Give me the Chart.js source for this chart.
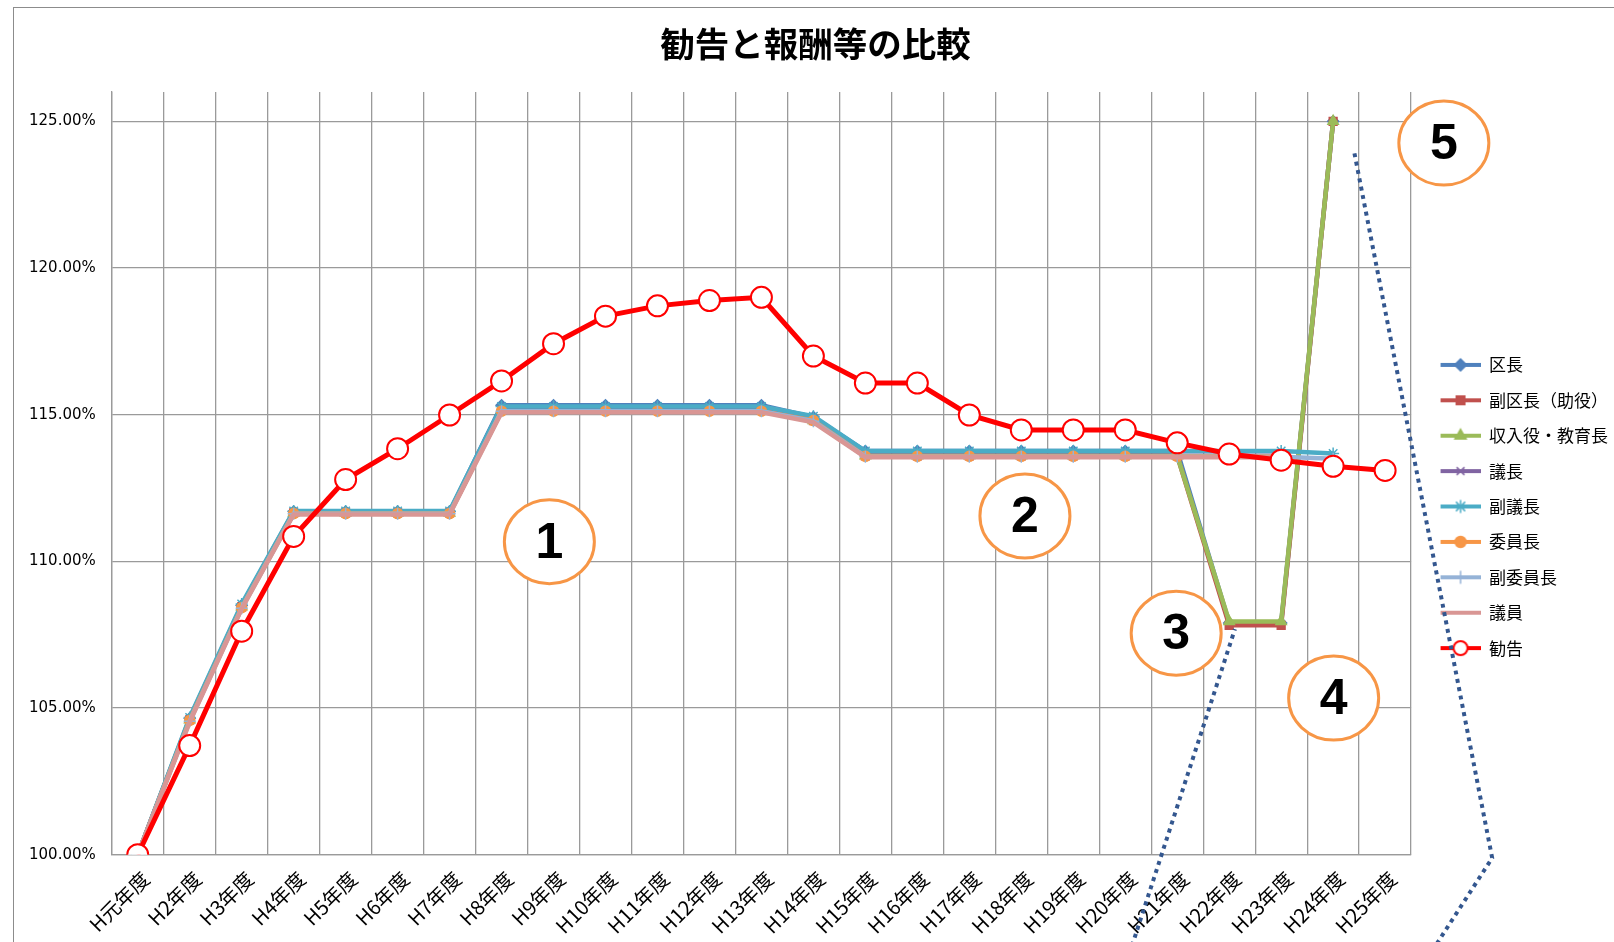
<!DOCTYPE html>
<html lang="ja">
<head>
<meta charset="utf-8">
<title>勧告と報酬等の比較</title>
<script src="https://cdn.jsdelivr.net/npm/chart.js@4.4.1/dist/chart.umd.min.js"></script>
<style>
  html, body { margin: 0; padding: 0; background: #fff; }
  #wrap { position: relative; width: 1614px; height: 942px; overflow: hidden; }
  #frame { position: absolute; left: 13px; top: 7px; width: 1700px; height: 1000px;
           border-left: 1.5px solid #8c8c8c; border-top: 1.5px solid #8c8c8c; }
  #chart { position: absolute; left: 0; top: 0; }
</style>
</head>
<body>
<div id="wrap">
  <div id="frame"></div>
  <canvas id="chart" width="1614" height="942"></canvas>
</div>
<script>
// fiscal years (Heisei)
const years = ['H元年度', 'H2年度', 'H3年度', 'H4年度', 'H5年度', 'H6年度', 'H7年度', 'H8年度',
    'H9年度', 'H10年度', 'H11年度', 'H12年度', 'H13年度', 'H14年度', 'H15年度', 'H16年度',
    'H17年度', 'H18年度', 'H19年度', 'H20年度', 'H21年度', 'H22年度', 'H23年度', 'H24年度', 'H25年度'];

// ratios in %
const kuchou      = [100.00, 104.65, 108.50, 111.70, 111.70, 111.70, 111.70, 115.32, 115.32, 115.32, 115.32, 115.32, 115.32, 114.92, 113.76, 113.76, 113.76, 113.76, 113.76, 113.76, 113.76, 107.90, 107.90, 125.00, null];
const fukuKuchou  = [100.00, 104.60, 108.45, 111.65, 111.65, 111.65, 111.65, 115.15, 115.15, 115.15, 115.15, 115.15, 115.15, 114.80, 113.60, 113.60, 113.60, 113.60, 113.60, 113.60, 113.60, 107.82, 107.82, 125.00, null];
const shunyuyaku  = [100.00, 104.60, 108.45, 111.65, 111.65, 111.65, 111.65, 115.15, 115.15, 115.15, 115.15, 115.15, 115.15, 114.80, 113.60, 113.60, 113.60, 113.60, 113.60, 113.60, 113.60, 107.95, 107.95, 125.00, null];
const gichou      = [100.00, 104.60, 108.45, 111.65, 111.65, 111.65, 111.65, 115.15, 115.15, 115.15, 115.15, 115.15, 115.15, 114.80, 113.60, 113.60, 113.60, 113.60, 113.60, 113.60, 113.60, 113.60, 113.60, null, null];
const fukuGichou  = [100.00, 104.68, 108.55, 111.72, 111.72, 111.72, 111.72, 115.28, 115.28, 115.28, 115.28, 115.28, 115.28, 114.95, 113.76, 113.76, 113.76, 113.76, 113.76, 113.76, 113.76, 113.76, 113.76, 113.68, null];
const iinchou     = [100.00, 104.58, 108.42, 111.63, 111.63, 111.63, 111.63, 115.12, 115.12, 115.12, 115.12, 115.12, 115.12, 114.80, 113.58, 113.58, 113.58, 113.58, 113.58, 113.58, 113.58, 113.58, 113.58, null, null];
const fukuIinchou = [100.00, 104.55, 108.40, 111.62, 111.62, 111.62, 111.62, 115.12, 115.12, 115.12, 115.12, 115.12, 115.12, 114.78, 113.57, 113.57, 113.57, 113.57, 113.57, 113.57, 113.57, 113.57, 113.57, 113.50, null];
const giin        = [100.00, 104.52, 108.38, 111.60, 111.60, 111.60, 111.60, 115.08, 115.08, 115.08, 115.08, 115.08, 115.08, 114.74, 113.55, 113.55, 113.55, 113.55, 113.55, 113.55, 113.55, 113.55, 113.55, null, null];
const kankoku     = [100.00, 103.72, 107.62, 110.85, 112.79, 113.84, 114.99, 116.15, 117.42, 118.36, 118.71, 118.89, 119.00, 117.00, 116.08, 116.08, 114.99, 114.48, 114.48, 114.48, 114.04, 113.66, 113.45, 113.24, 113.10];

// numbered circles, in (category index, %) units
const noteLabels = ['1', '2', '3', '4', '5'];
const noteX = [7.92, 17.07, 19.98, 23.01, 25.13];
const noteY = [110.67, 111.55, 107.55, 105.34, 124.26];

// dotted guide strokes, same units
const guideAX = [19.13, 21.11];
const guideAY = [96.90, 107.69];
const guideBX = [23.41, 26.06, 24.97];
const guideBY = [123.91, 99.89, 96.90];

const gridColor = '#9a9a9a';

function series(label, data, color, style, radius, order) {
    return {
        label: label,
        data: data,
        borderColor: color,
        backgroundColor: color,
        pointBackgroundColor: color,
        pointBorderColor: color,
        pointStyle: style,
        pointRadius: radius,
        pointBorderWidth: 1.5,
        borderWidth: 4.5,
        tension: 0,
        order: order,
    };
}

const datasets = [
    series('区長', kuchou, '#4f81bd', 'rectRot', 5.5, 8),
    series('副区長（助役）', fukuKuchou, '#c0504d', 'rect', 5.5, 7),
    series('収入役・教育長', shunyuyaku, '#9bbb59', 'triangle', 6, 6),
    series('議長', gichou, '#8064a2', 'crossRot', 5, 5),
    series('副議長', fukuGichou, '#4bacc6', 'star', 6, 4),
    series('委員長', iinchou, '#f79646', 'circle', 5, 3),
    series('副委員長', fukuIinchou, '#95b3d7', 'cross', 6, 2),
    series('議員', giin, '#d99694', 'circle', 0, 1),
    {
        label: '勧告',
        data: kankoku,
        borderColor: '#ff0000',
        backgroundColor: '#ff0000',
        pointBackgroundColor: '#ffffff',
        pointBorderColor: '#ff0000',
        pointStyle: 'circle',
        pointRadius: 10.5,
        pointBorderWidth: 2,
        borderWidth: 5,
        tension: 0,
        order: 0,
    },
];

// legend icon = short line with the marker in the middle
function legendIcon(ds) {
    const c = document.createElement('canvas');
    c.width = 51;
    c.height = 20;
    const g = c.getContext('2d');
    g.strokeStyle = ds.borderColor;
    g.lineWidth = 4;
    g.beginPath();
    g.moveTo(11, 10);
    g.lineTo(51, 10);
    g.stroke();
    if (ds.pointRadius > 0) {
        const big = ds.label === '勧告';
        g.fillStyle = ds.pointBackgroundColor;
        g.strokeStyle = ds.pointBorderColor;
        g.lineWidth = big ? 2 : 1.5;
        Chart.helpers.drawPoint(g, {
            pointStyle: ds.pointStyle,
            rotation: 0,
            radius: big ? 7 : ds.pointRadius + 0.5,
            borderWidth: g.lineWidth,
        }, 31, 10);
    }
    return c;
}
const legendIcons = datasets.map(legendIcon);

const notesPlugin = {
    id: 'notes',
    afterDraw(chart) {
        const {ctx} = chart;
        const xs = chart.scales.x, ys = chart.scales.y;
        ctx.save();
        ctx.strokeStyle = '#34578f';
        ctx.lineWidth = 4;
        ctx.setLineDash([4, 4.5]);
        [[guideAX, guideAY], [guideBX, guideBY]].forEach(([gx, gy]) => {
            ctx.beginPath();
            gx.forEach((v, i) => {
                const px = xs.getPixelForValue(v), py = ys.getPixelForValue(gy[i]);
                if (i === 0) ctx.moveTo(px, py); else ctx.lineTo(px, py);
            });
            ctx.stroke();
        });
        ctx.setLineDash([]);
        noteLabels.forEach((t, i) => {
            const cx = xs.getPixelForValue(noteX[i]), cy = ys.getPixelForValue(noteY[i]);
            ctx.beginPath();
            ctx.ellipse(cx, cy, 45, 42, 0, 0, Math.PI * 2);
            ctx.fillStyle = '#ffffff';
            ctx.fill();
            ctx.strokeStyle = '#f79646';
            ctx.lineWidth = 3;
            ctx.stroke();
            ctx.fillStyle = '#000000';
            ctx.font = 'bold 50px "Liberation Sans"';
            ctx.textAlign = 'center';
            ctx.textBaseline = 'middle';
            ctx.fillText(t, cx, cy + 2);
        });
        ctx.restore();
    }
};

Chart.defaults.font.family = '"Noto Sans CJK JP", "Noto Sans", sans-serif';
Chart.defaults.color = '#000';

const ctx = document.getElementById('chart').getContext('2d');
new Chart(ctx, {
    type: 'line',
    data: { labels: years, datasets: datasets },
    plugins: [notesPlugin],
    options: {
        responsive: false,
        animation: false,
        layout: { padding: { left: 13, right: -4, top: 0, bottom: -8 } },
        plugins: {
            title: {
                display: true,
                text: '勧告と報酬等の比較',
                color: '#000',
                font: { size: 34.5, weight: 'bold' },
                padding: { top: 23.3, bottom: 27.3 },
            },
            legend: {
                position: 'right',
                align: 'start',
                title: { display: true, text: '', font: { size: 10 }, padding: { top: 326, bottom: 0 } },
                labels: {
                    usePointStyle: true,
                    pointStyleWidth: 51,
                    padding: 18.4,
                    color: '#000',
                    font: { size: 17 },
                    sort: (a, b) => a.datasetIndex - b.datasetIndex,
                    generateLabels(chart) {
                        const items = Chart.defaults.plugins.legend.labels.generateLabels(chart);
                        items.forEach(it => { it.pointStyle = legendIcons[it.datasetIndex]; });
                        return items;
                    },
                },
            },
            tooltip: { enabled: false },
        },
        scales: {
            x: {
                offset: true,
                grid: { offset: true, color: gridColor, lineWidth: 1.3, drawTicks: false },
                border: { color: gridColor, width: 1.3 },
                ticks: { autoSkip: false, minRotation: 45, maxRotation: 45, padding: 12, labelOffset: 8, font: { size: 20 } },
            },
            y: {
                min: 100,
                max: 126,
                grid: { color: gridColor, lineWidth: 1.3, drawTicks: false },
                border: { color: gridColor, width: 1.3 },
                ticks: {
                    stepSize: 5,
                    includeBounds: false,
                    padding: 16,
                    font: { family: '"DejaVu Sans"', size: 15 },
                    callback: v => v.toFixed(2) + '%',
                },
            },
        },
    },
});
</script>
</body>
</html>
